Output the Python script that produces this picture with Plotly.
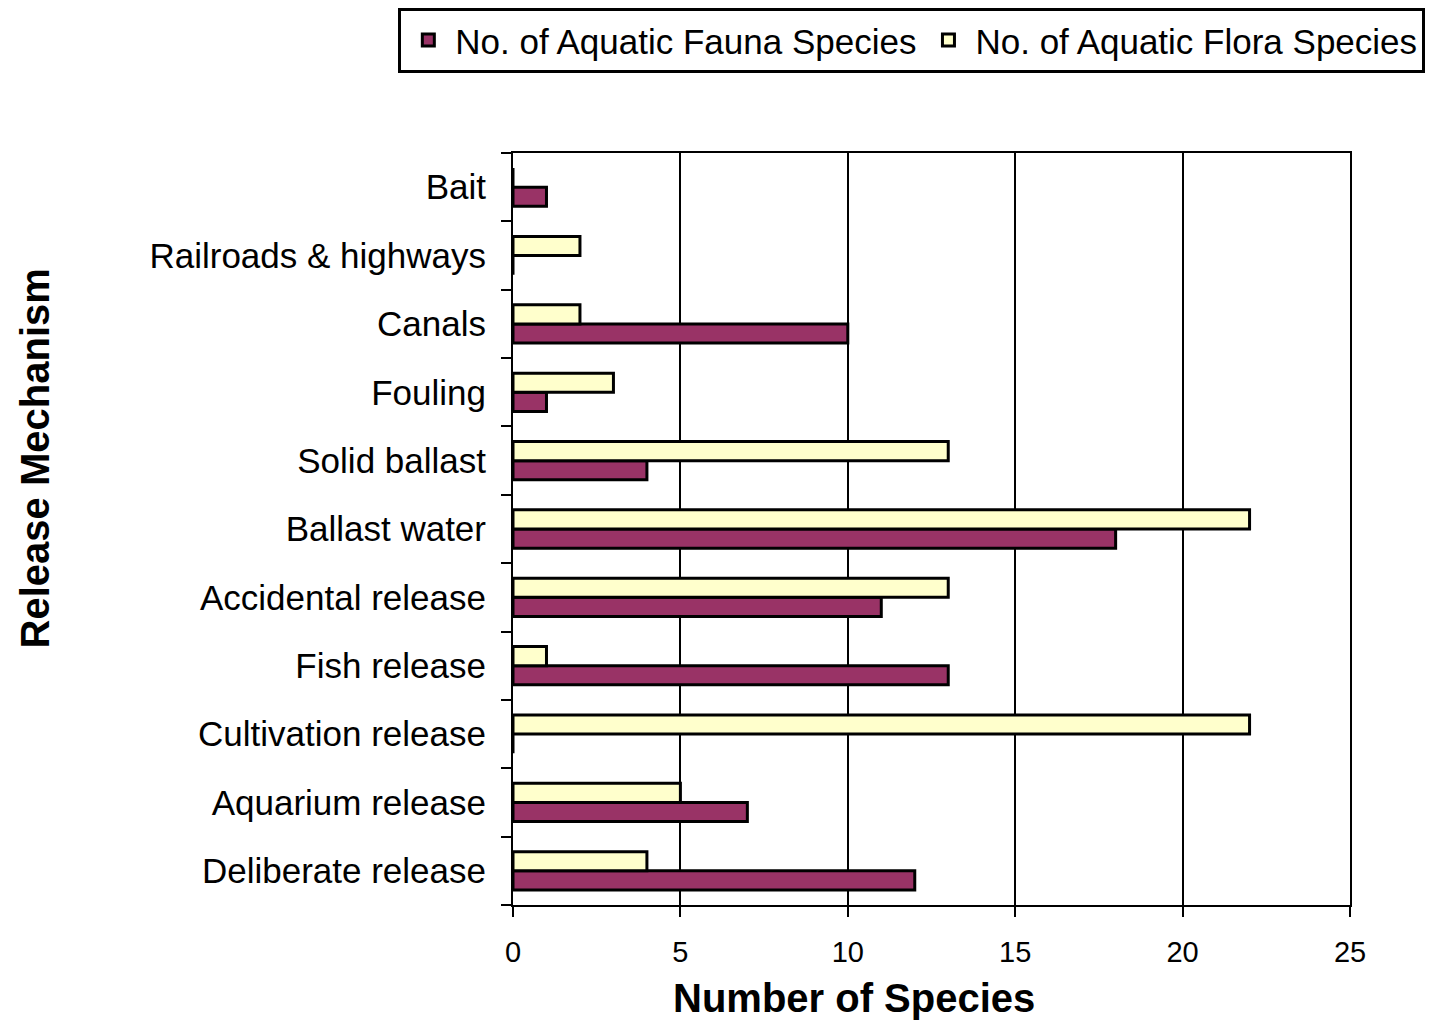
import plotly.graph_objects as go

# categories listed bottom -> top
categories = ["Deliberate release", "Aquarium release", "Cultivation release", "Fish release",
              "Accidental release", "Ballast water", "Solid ballast", "Fouling", "Canals",
              "Railroads & highways", "Bait"]
fauna = [12, 7, 0, 13, 11, 18, 4, 1, 10, 0, 1]
flora = [4, 5, 22, 1, 13, 22, 13, 3, 2, 2, 0]
x_ticks = [0, 5, 10, 15, 20, 25]

fig = go.Figure()
fig.add_trace(go.Bar(y=categories, x=fauna, orientation="h", name="No. of Aquatic Fauna Species",
                     marker=dict(color="#993366", line=dict(color="black", width=3))))
fig.add_trace(go.Bar(y=categories, x=flora, orientation="h", name="No. of Aquatic Flora Species",
                     marker=dict(color="#FFFFCC", line=dict(color="black", width=3))))

fig.update_layout(
    width=1436, height=1021,
    margin=dict(l=505, r=94, t=145, b=124, autoexpand=False),
    paper_bgcolor="white", plot_bgcolor="white",
    barmode="group", bargap=0.44, bargroupgap=0,
    font=dict(family="Liberation Sans, Arial, sans-serif", color="black"),
    legend=dict(orientation="h", x=-0.137, y=1.193, xanchor="left", yanchor="top",
                bordercolor="black", borderwidth=3, bgcolor="white",
                font=dict(size=35), itemwidth=44, tracegroupgap=0),
    showlegend=True,
    annotations=[
        dict(text="<b>Number of Species</b>", xref="paper", yref="paper",
             x=0.407, y=-0.124, xanchor="center", yanchor="middle", showarrow=False,
             font=dict(size=40)),
        dict(text="<b>Release Mechanism</b>", xref="paper", yref="paper",
             x=-0.571, y=0.594, xanchor="center", yanchor="middle", showarrow=False,
             textangle=-90, font=dict(size=40)),
    ],
)
fig.update_xaxes(range=[0, 25], tickvals=x_ticks, showgrid=True, gridcolor="black", gridwidth=2,
                 showline=True, linecolor="black", linewidth=2, mirror=True,
                 ticks="outside", ticklen=10, tickwidth=2, tickcolor="black",
                 tickfont=dict(size=29), ticklabelstandoff=10, zeroline=False)
fig.update_yaxes(categoryorder="array", categoryarray=categories, tickson="boundaries",
                 showline=True, linecolor="black", linewidth=2, mirror=True,
                 ticks="outside", ticklen=10, tickwidth=2, tickcolor="black",
                 tickfont=dict(size=35), ticklabelstandoff=18, showgrid=False)

fig.write_html("out.html")
